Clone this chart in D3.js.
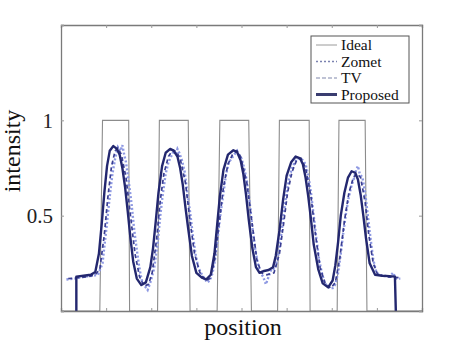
<!DOCTYPE html>
<html><head><meta charset="utf-8">
<script src="https://cdn.jsdelivr.net/npm/d3@7"></script>
<style>body{margin:0;background:#fff}svg{display:block}</style>
</head><body>
<script>
// ---- data (position units 0..400, intensity 0..1.5) ----
const ideal = [[0,0],[43,0],[46,1],[75,1],[76,0],[107,0],[109,1],[141,1],[143,0],[173,0],[176,1],[208,1],[211,0],[240,0],[242,1],[275,1],[276,0],[306,0],[308,1],[337,1],[339,0],[400,0]];
const zomet = [[8,0.17],[20,0.175],[30,0.18],[38,0.19],[43,0.22],[48,0.4],[52,0.6],[56,0.76],[60,0.84],[63,0.855],[67,0.82],[72,0.7],[77,0.5],[82,0.3],[87,0.18],[92,0.13],[97,0.14],[101,0.2],[106,0.38],[110,0.58],[114,0.72],[119,0.81],[124,0.845],[128,0.835],[132,0.8],[138,0.67],[143,0.47],[148,0.3],[154,0.2],[160,0.16],[165,0.17],[170,0.26],[175,0.45],[180,0.65],[185,0.77],[190,0.82],[195,0.84],[199,0.81],[206,0.67],[212,0.45],[217,0.27],[222,0.2],[228,0.19],[236,0.2],[242,0.3],[247,0.47],[251,0.62],[256,0.73],[261,0.79],[266,0.8],[271,0.75],[277,0.6],[282,0.4],[287,0.23],[293,0.14],[299,0.12],[304,0.15],[309,0.28],[314,0.47],[319,0.62],[324,0.7],[328,0.72],[332,0.7],[337,0.57],[341,0.4],[346,0.25],[351,0.19],[360,0.18],[375,0.175]];
const tv = [[6,0.165],[15,0.17],[25,0.18],[35,0.185],[41,0.19],[46,0.25],[50,0.42],[54,0.6],[57,0.72],[60,0.8],[63,0.86],[66,0.84],[68,0.87],[70,0.82],[72,0.78],[75,0.68],[78,0.57],[81,0.43],[84,0.32],[87,0.22],[90,0.15],[93,0.13],[96,0.11],[99,0.15],[103,0.22],[107,0.35],[110,0.5],[113,0.62],[116,0.72],[119,0.78],[122,0.81],[125,0.84],[127,0.82],[129,0.85],[131,0.83],[134,0.79],[137,0.73],[140,0.62],[143,0.52],[146,0.4],[149,0.3],[152,0.23],[155,0.2],[159,0.17],[162,0.15],[165,0.16],[168,0.2],[171,0.28],[174,0.4],[177,0.52],[180,0.62],[183,0.72],[186,0.78],[189,0.8],[192,0.82],[195,0.84],[197,0.82],[200,0.8],[203,0.75],[206,0.68],[209,0.57],[212,0.44],[215,0.33],[218,0.25],[221,0.2],[224,0.18],[227,0.14],[230,0.18],[233,0.22],[237,0.22],[241,0.3],[244,0.4],[247,0.52],[250,0.62],[253,0.7],[256,0.75],[259,0.78],[262,0.8],[265,0.8],[268,0.79],[271,0.77],[274,0.71],[277,0.62],[280,0.5],[283,0.38],[286,0.27],[289,0.2],[292,0.15],[295,0.13],[298,0.12],[301,0.12],[304,0.14],[307,0.2],[310,0.3],[313,0.42],[316,0.52],[319,0.6],[322,0.66],[325,0.7],[327,0.74],[329,0.76],[331,0.72],[334,0.7],[337,0.62],[340,0.5],[343,0.38],[346,0.27],[349,0.21],[352,0.19],[358,0.185],[364,0.18],[368,0.2],[371,0.17],[376,0.17]];
const proposed = [[17,0],[17,0.18],[25,0.185],[33,0.19],[38,0.205],[42,0.3],[45,0.45],[48,0.62],[51,0.76],[54,0.84],[58,0.865],[62,0.85],[65,0.82],[68,0.75],[71,0.65],[74,0.52],[77,0.38],[80,0.26],[84,0.17],[89,0.136],[94,0.15],[99,0.23],[102,0.33],[105,0.47],[108,0.62],[112,0.76],[116,0.83],[121,0.85],[125,0.84],[129,0.81],[132,0.75],[135,0.66],[138,0.54],[141,0.43],[145,0.29],[150,0.2],[156,0.175],[161,0.166],[166,0.19],[170,0.3],[173,0.45],[176,0.6],[180,0.74],[185,0.82],[191,0.843],[195,0.835],[199,0.79],[202,0.72],[205,0.61],[208,0.48],[212,0.33],[216,0.23],[220,0.2],[225,0.21],[230,0.215],[235,0.23],[238,0.29],[242,0.42],[246,0.58],[250,0.71],[255,0.78],[260,0.81],[265,0.8],[268,0.77],[271,0.7],[274,0.6],[277,0.48],[280,0.35],[285,0.22],[290,0.145],[296,0.124],[301,0.16],[304,0.24],[307,0.36],[310,0.5],[314,0.62],[318,0.7],[322,0.733],[326,0.725],[329,0.69],[332,0.61],[335,0.5],[338,0.38],[342,0.25],[348,0.19],[356,0.185],[364,0.183],[370,0.18],[371,0]];
const xTicks = [0,50,100,150,200,250,300,350,400];
const yTicks = [0,0.5,1,1.5];
const yTickLabels = {0.5:"0.5", 1:"1"};
const legendNames = ["Ideal","Zomet","TV","Proposed"];

const W=466,H=350, L=61,R=422,T=25,B=311;
const svg=d3.select("body").append("svg").attr("width",W).attr("height",H);
const x=d3.scaleLinear().domain([0,400]).range([L,R]);
const y=d3.scaleLinear().domain([0,1.5]).range([B,T]);
const serif="'Liberation Serif','DejaVu Serif',serif";
const axisCol="#7a7a7a";

const line=d3.line().x(d=>x(d[0])).y(d=>y(d[1]));
svg.append("clipPath").attr("id","c").append("rect").attr("x",L).attr("y",T).attr("width",R-L).attr("height",B-T);
const g=svg.append("g").attr("clip-path","url(#c)");

g.append("path").datum(ideal).attr("d",line).attr("fill","none").attr("stroke","#8c8c8c").attr("stroke-width",1.1);
g.append("path").datum(tv).attr("d",line).attr("fill","none").attr("stroke","#8d98e2").attr("stroke-width",2.4).attr("stroke-dasharray","2,2");
g.append("path").datum(zomet).attr("d",line).attr("fill","none").attr("stroke","#3a3e92").attr("stroke-width",1.7).attr("stroke-dasharray","4,3");
g.append("path").datum(proposed).attr("d",line).attr("fill","none").attr("stroke","#23276f").attr("stroke-width",2.4).attr("stroke-linejoin","round");

// axes (ticks inward, box)
const ax=svg.append("g");
ax.append("g").attr("transform",`translate(0,${B})`).call(d3.axisBottom(x).tickValues(xTicks).tickSize(-3).tickFormat(""));
ax.append("g").attr("transform",`translate(0,${T})`).call(d3.axisTop(x).tickValues(xTicks).tickSize(-3).tickFormat(""));
ax.append("g").attr("transform",`translate(${R},0)`).call(d3.axisRight(y).tickValues(yTicks).tickSize(-3).tickFormat(""));
const yl=ax.append("g").attr("transform",`translate(${L},0)`).call(d3.axisLeft(y).tickValues(yTicks).tickSize(-3).tickPadding(8).tickFormat(d=>yTickLabels[d]||""));
ax.selectAll(".domain").attr("stroke",axisCol).attr("stroke-width",1.3);
ax.selectAll(".tick line").attr("stroke","#999");
yl.selectAll("text").attr("font-family",serif).attr("font-size",21).attr("fill","#222");

svg.append("text").attr("x",243).attr("y",335).attr("text-anchor","middle").attr("font-family",serif).attr("font-size",24).attr("fill","#111").text("position");
svg.append("text").attr("transform","translate(20,151) rotate(-90)").attr("text-anchor","middle").attr("font-family",serif).attr("font-size",24).attr("fill","#111").text("intensity");

// legend
const lg=svg.append("g");
lg.append("rect").attr("x",311).attr("y",36).attr("width",98).attr("height",67).attr("fill","#fff").attr("stroke","#555").attr("stroke-width",1);
const styles=[{c:"#9a9a9a",w:1,d:null},{c:"#7b82b0",w:1.3,d:"2,2"},{c:"#aab0c8",w:1.3,d:"4,2"},{c:"#3a3d70",w:3,d:null}];
const ly=[45,61.5,78,94.5];
legendNames.forEach((n,i)=>{
  lg.append("line").attr("x1",316).attr("x2",337).attr("y1",ly[i]).attr("y2",ly[i]).attr("stroke",styles[i].c).attr("stroke-width",styles[i].w).attr("stroke-dasharray",styles[i].d);
  lg.append("text").attr("x",341).attr("y",ly[i]+5).attr("font-family",serif).attr("font-size",15.5).attr("fill","#111").text(n);
});
</script>
</body></html>
